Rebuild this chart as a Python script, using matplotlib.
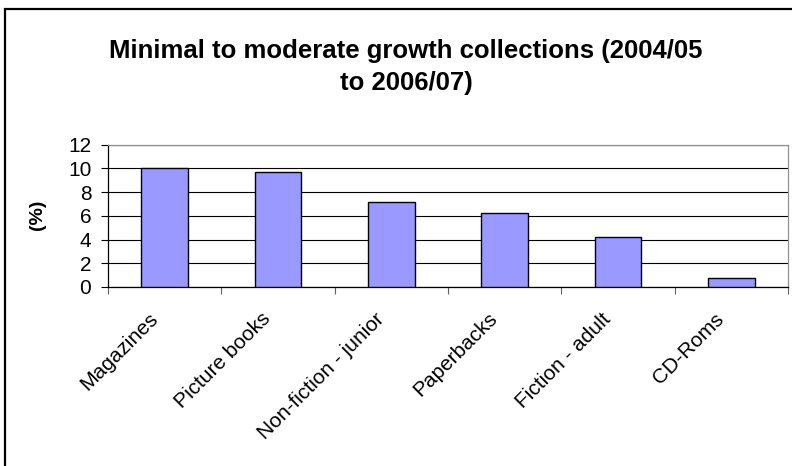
import numpy as np
import matplotlib.pyplot as plt
from matplotlib.patches import Rectangle

plt.rcParams['font.family'] = ['Liberation Sans', 'DejaVu Sans']

# Données
categories = ["Magazines", "Picture books", "Non-fiction - junior",
              "Paperbacks", "Fiction - adult", "CD-Roms"]
growth = [10.0, 9.7, 7.2, 6.2, 4.2, 0.8]
y_ticks = [0, 2, 4, 6, 8, 10, 12]

W, H = 792, 466
fig = plt.figure(figsize=(W/100, H/100), dpi=100)

# Cadre extérieur (haut et gauche seulement visibles)
fig.patches.append(Rectangle((5/W, -0.1), 1.2, (H-9)/H + 0.1, transform=fig.transFigure,
                             fill=False, edgecolor="black", lw=1.6))

x0, x1 = 108, 788
y0, y1 = 287, 144.6
ax = fig.add_axes([x0/W, (H-y0)/H, (x1-x0)/W, (y0-y1)/H])

x = np.arange(len(categories))
ax.bar(x, growth, width=0.41, color="#9999ff", edgecolor="black", lw=1.0, zorder=3)

ax.set_xlim(-0.5, len(categories) - 0.5)
ax.set_ylim(0, 12)
ax.set_yticks(y_ticks)
ax.tick_params(axis="y", labelsize=15, length=5, width=0.8, pad=7)
ax.yaxis.grid(True, color="black", lw=0.8, zorder=0)

# Graduations entre les catégories
ax.set_xticks(np.arange(len(categories) + 1) - 0.5)
ax.set_xticklabels([])
ax.tick_params(axis="x", length=5, width=0.8, color="#606060")
for i, lab in enumerate(categories):
    ax.annotate(lab, xy=(i, 0), xycoords="data", xytext=(-12, -16), textcoords="offset points",
                rotation=45, ha="right", va="top", rotation_mode="anchor", fontsize=15)

for s in ["top", "right"]:
    ax.spines[s].set_color("#909090")
for s in ["left", "bottom"]:
    ax.spines[s].set_color("black")
for s in ax.spines.values():
    s.set_linewidth(0.9)

ax.set_ylabel("(%)", fontsize=14, fontweight="bold")
ax.yaxis.set_label_coords((46 - x0) / (x1 - x0), 0.51)

fig.text(406/W, (H-67)/H, "Minimal to moderate growth collections (2004/05\nto 2006/07)",
         ha="center", va="center", fontsize=18.5, fontweight="bold", linespacing=1.4)

fig.savefig("out.png", dpi=100)
